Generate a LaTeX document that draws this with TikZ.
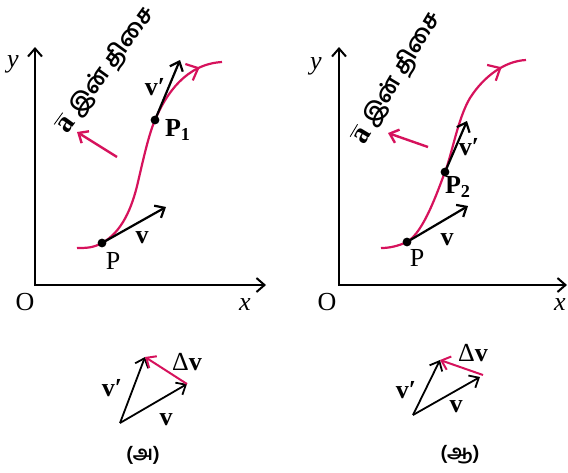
\documentclass[tikz,border=0pt]{standalone}
\usepackage{fontspec}
\setmainfont{Liberation Serif}
\newfontfamily\tamil[Script=Tamil]{Hind Madurai}
\usetikzlibrary{arrows.meta,decorations.markings}
\definecolor{curvepink}{RGB}{214,18,92}

\begin{document}
\begin{tikzpicture}[x=0.5pt,y=-0.5pt,>={Straight Barb[length=4pt,width=7pt]},
  axis/.style={<->,line width=1pt},
  vec/.style={->,line width=1.1pt},
  acc/.style={->,line width=1.2pt,draw=curvepink},
  trajectory/.style={line width=1.1pt,draw=curvepink,postaction={decorate},
    decoration={markings,mark=at position #1 with
      {\arrow[curvepink,line width=1.1pt]{Straight Barb[length=5pt,width=9pt]}}}},
  lbl/.style={font=\fontsize{13}{15}\selectfont},
  dirtext/.style={font=\fontsize{11.5}{13}\selectfont\bfseries,inner sep=0pt}]
\useasboundingbox (0,0) rectangle (568,472);

% left graph
\coordinate (oL) at (35,285);
\coordinate (xL) at (266,285);
\coordinate (yL) at (35,47);
\draw[axis] (yL) -- (oL) -- (xL);
\node[lbl] (Ol) at (25,302) {O};
\node[lbl] (xl) at (245,305) {\textit{x}};
\node[lbl] (yl) at (13,64) {\textit{y}};

\coordinate (sL) at (77,248);
\coordinate (pL) at (102,243);
\coordinate (mL) at (138,182);
\coordinate (p1) at (155,120);
\coordinate (eL) at (222,62);
\draw[trajectory=0.91] (sL) .. controls (86,248) and (93,248) .. (pL)
  .. controls (122,232) and (132,208) .. (mL)
  .. controls (144,156) and (149,134) .. (p1)
  .. controls (166,94) and (186,64) .. (eL);
\coordinate (vL) at (166,207);
\coordinate (v1) at (180,60);
\draw[vec] (pL) -- (vL);
\draw[vec] (p1) -- (v1);
\fill (pL) circle (2.2pt);
\fill (p1) circle (2.2pt);
\node[lbl] (Pl) at (113,261) {P};
\node[lbl] (vlab) at (142,238) {\textbf{v}};
\node[lbl] (P1l) at (178,130) {\textbf{P\textsubscript{1}}};
\node[lbl] (v1lab) at (155,87) {\textbf{v′}};
\coordinate (aL0) at (117,157);
\coordinate (aL1) at (77,132);
\draw[acc] (aL0) -- (aL1);
\node[dirtext,rotate=54] (dirL) at (106,70) {$\overline{\hbox{\fontsize{14.5}{15}\selectfont\bfseries a}}$\ {\tamil இன் திசை}};

% right graph
\coordinate (oR) at (339,285);
\coordinate (xR) at (567,285);
\coordinate (yR) at (339,47);
\draw[axis] (yR) -- (oR) -- (xR);
\node[lbl] (Or) at (327,302) {O};
\node[lbl] (xr) at (560,305) {\textit{x}};
\node[lbl] (yr) at (316,66) {\textit{y}};

\coordinate (sR) at (381,248);
\coordinate (pR) at (407,242);
\coordinate (p2) at (445,172);
\coordinate (mR) at (470,98);
\coordinate (eR) at (526,60);
\draw[trajectory=0.9] (sR) .. controls (390,248) and (398,246) .. (pR)
  .. controls (424,232) and (438,190) .. (p2)
  .. controls (452,154) and (458,118) .. (mR)
  .. controls (484,76) and (505,61) .. (eR);
\coordinate (vR) at (468,206);
\coordinate (v2) at (467,121);
\draw[vec] (pR) -- (vR);
\draw[vec] (p2) -- (v2);
\fill (pR) circle (2.2pt);
\fill (p2) circle (2.2pt);
\node[lbl] (Pr) at (417,258) {P};
\node[lbl] (vrlab) at (447,240) {\textbf{v}};
\node[lbl] (P2l) at (458,187) {\textbf{P\textsubscript{2}}};
\node[lbl] (v2lab) at (469,147) {\textbf{v′}};
\coordinate (aR0) at (428,147);
\coordinate (aR1) at (388,133);
\draw[acc] (aR0) -- (aR1);
\node[dirtext,rotate=59] (dirR) at (397,78) {$\overline{\hbox{\fontsize{14.5}{15}\selectfont\bfseries a}}$\ {\tamil இன் திசை}};

% vector triangles
\coordinate (tA) at (120,423);
\coordinate (hvA) at (187,384);
\coordinate (hwA) at (145,357);
\draw[vec,line width=0.9pt] (tA) -- (hvA);
\draw[vec,line width=0.9pt] (tA) -- (hwA);
\draw[acc,line width=1pt] (hvA) -- (hwA);
\node[lbl] (wA) at (112,388) {\textbf{v′}};
\node[lbl] (vA) at (166,420) {\textbf{v}};
\node[lbl] (dA) at (187,362) {Δ\textbf{v}};
\node[font=\tamil\bfseries\fontsize{10}{12}\selectfont] (capA) at (143,455) {(அ)};

\coordinate (tB) at (413,415);
\coordinate (hvB) at (480,377);
\coordinate (hwB) at (440,360);
\coordinate (dB) at (483,375);
\draw[vec,line width=0.9pt] (tB) -- (hvB);
\draw[vec,line width=0.9pt] (tB) -- (hwB);
\draw[acc,line width=1pt] (dB) -- (hwB);
\node[lbl] (wB) at (406,390) {\textbf{v′}};
\node[lbl] (vB) at (456,407) {\textbf{v}};
\node[lbl] (dBl) at (473,353) {Δ\textbf{v}};
\node[font=\tamil\bfseries\fontsize{10}{12}\selectfont] (capB) at (460,455) {(ஆ)};
\end{tikzpicture}
\end{document}
